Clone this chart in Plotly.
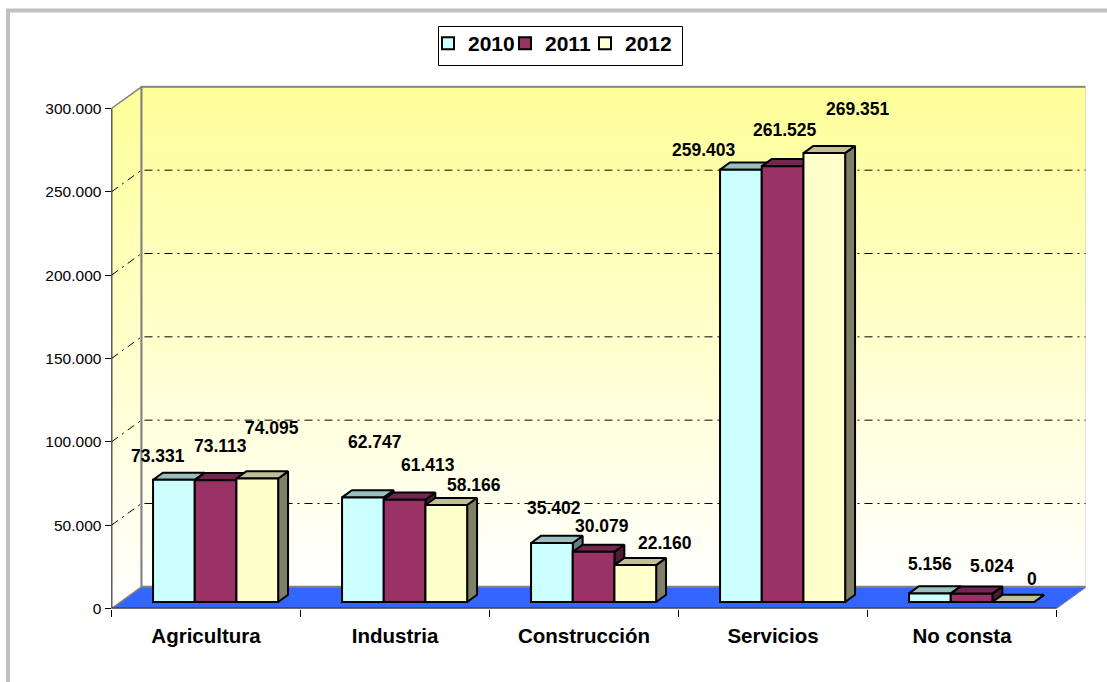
import plotly.graph_objects as go

categories = ["Agricultura", "Industria", "Construcción", "Servicios", "No consta"]
years = ["2010", "2011", "2012"]
values_2010 = [73331, 62747, 35402, 259403, 5156]
values_2011 = [73113, 61413, 30079, 261525, 5024]
values_2012 = [74095, 58166, 22160, 269351, 0]
y_ticks = [0, 50000, 100000, 150000, 200000, 250000, 300000]
y_tick_labels = ["0", "50.000", "100.000", "150.000", "200.000", "250.000", "300.000"]

# where each data label sits relative to the top of its bar, in px (moved by hand in the original)
label_dx = [[-15, 13, 3, -36, 1], [5, 24, 9, 3, 21], [15, 28, 30, 34, 19]]
label_dy = [[-24, -55, -35, -20, -29], [-34, -35, -26, -36, -28], [-51, -20, -22, -44, -23]]

FRONT = ["#CCFFFF", "#993366", "#FFFFCC"]
TOP = ["#99BFBF", "#732650", "#BFBF99"]
SIDE = ["#668080", "#4D1A33", "#808066"]
FONT = "Liberation Sans, Arial, sans-serif"

W, H = 1107, 682
PX_X = 189  # px per category
PX_Y = 600  # value units per px

# fake 3d: how far the back wall is shifted from the front plane
WALL_DX = 30 / PX_X
WALL_DY = 13000
BAR_START = 0.32  # bars stand this far back on the floor
BAR_DEPTH = 0.33
BAR_W = 41.7 / PX_X
N = len(categories)

# one legend per year so each entry can sit where the original has it
LEGEND_NAMES = ["legend", "legend2", "legend3"]
LEGEND_X = [428, 505, 585]


def polygon(points, **kwargs):
    return go.Scatter(
        x=[p[0] for p in points],
        y=[p[1] for p in points],
        mode="lines",
        fill="toself",
        showlegend=False,
        hoverinfo="skip",
        cliponaxis=False,
        **kwargs,
    )


def line(points, color, width, dash="solid"):
    return go.Scatter(
        x=[p[0] for p in points],
        y=[p[1] for p in points],
        mode="lines",
        line=dict(color=color, width=width, dash=dash),
        showlegend=False,
        hoverinfo="skip",
        cliponaxis=False,
    )


def legend_style(x_px):
    return dict(
        orientation="h",
        x=x_px / W,
        y=1 - 23 / H,
        xanchor="left",
        yanchor="top",
        bgcolor="rgba(0,0,0,0)",
        font=dict(family=FONT, size=21, color="#000000", weight="bold"),
    )


fig = go.Figure()

top_value = y_ticks[-1]
wall_fill = dict(type="vertical", colorscale=[[0, "#FFFFFF"], [1, "#FFFF99"]])

fig.add_trace(
    polygon(
        [(0, 0), (N, 0), (N + WALL_DX, WALL_DY), (WALL_DX, WALL_DY), (0, 0)],
        fillcolor="#3366FF",
        line=dict(color="#808080", width=1),
    )
)
fig.add_trace(
    polygon(
        [(0, 0), (WALL_DX, WALL_DY), (WALL_DX, top_value + WALL_DY), (0, top_value), (0, 0)],
        fillgradient=wall_fill,
        line=dict(color="#808080", width=1.5),
    )
)
fig.add_trace(
    polygon(
        [
            (WALL_DX, WALL_DY),
            (N + WALL_DX, WALL_DY),
            (N + WALL_DX, top_value + WALL_DY),
            (WALL_DX, top_value + WALL_DY),
            (WALL_DX, WALL_DY),
        ],
        fillgradient=wall_fill,
        line=dict(color="#808080", width=2),
    )
)

for tick in y_ticks[1:-1]:
    fig.add_trace(
        line(
            [(0, tick), (WALL_DX, tick + WALL_DY), (N + WALL_DX, tick + WALL_DY)],
            "#000000",
            1,
            "8px,5px,2px,5px",
        )
    )

fig.add_trace(line([(0, 0), (0, top_value)], "#000000", 1.5))
fig.add_trace(line([(0, 0), (N, 0)], "#333333", 2))

base = 0.3 * WALL_DY
depth_x = BAR_DEPTH * WALL_DX
depth_y = BAR_DEPTH * WALL_DY
edge = dict(color="#000000", width=2)
annotations = []

series = [values_2010, values_2011, values_2012]
for s, values in enumerate(series):
    centers = [c + 0.5 + BAR_START * WALL_DX + (s - 1) * BAR_W for c in range(N)]
    for center, value in zip(centers, values):
        x0 = center - BAR_W / 2
        x1 = center + BAR_W / 2
        tip = base + value
        fig.add_trace(
            polygon(
                [(x1, base), (x1, tip), (x1 + depth_x, tip + depth_y), (x1 + depth_x, base + depth_y), (x1, base)],
                fillcolor=SIDE[s],
                line=edge,
                zorder=2 * s + 1,
            )
        )
        fig.add_trace(
            polygon(
                [(x0, tip), (x1, tip), (x1 + depth_x, tip + depth_y), (x0 + depth_x, tip + depth_y), (x0, tip)],
                fillcolor=TOP[s],
                line=edge,
                zorder=2 * s + 1,
            )
        )
    fig.add_trace(
        go.Bar(
            x=centers,
            y=values,
            base=base,
            width=BAR_W,
            name=years[s],
            legend=LEGEND_NAMES[s],
            showlegend=True,
            marker=dict(color=FRONT[s], line=edge),
            hoverinfo="skip",
            zorder=2 * s + 2,
        )
    )
    for c, value in enumerate(values):
        annotations.append(
            dict(
                x=centers[c],
                y=base + value,
                text=f"{value:,}".replace(",", "."),
                xshift=label_dx[s][c] - 0.6,
                yshift=-label_dy[s][c],
                showarrow=False,
                xanchor="center",
                yanchor="middle",
                font=dict(family=FONT, size=17.5, color="#000000", weight="bold"),
            )
        )

fig.update_layout(
    width=W,
    height=H,
    margin=dict(l=0, r=0, t=0, b=0, autoexpand=False),
    paper_bgcolor="#FFFFFF",
    plot_bgcolor="rgba(0,0,0,0)",
    barmode="overlay",
    annotations=annotations,
    legend=legend_style(LEGEND_X[0]),
    legend2=legend_style(LEGEND_X[1]),
    legend3=legend_style(LEGEND_X[2]),
    shapes=[
        dict(
            type="rect",
            xref="paper",
            yref="paper",
            x0=8 / W,
            x1=1.05,
            y0=-0.05,
            y1=1 - 10.5 / H,
            line=dict(color="#C0C0C0", width=4),
            layer="below",
        ),
        # legend box, drawn apart since the three legends share it
        dict(
            type="rect",
            xref="paper",
            yref="paper",
            x0=438.5 / W,
            x1=682.5 / W,
            y0=1 - 65.5 / H,
            y1=1 - 26.5 / H,
            fillcolor="#FFFFFF",
            line=dict(color="#000000", width=1),
            layer="below",
        ),
    ],
)

fig.update_xaxes(
    domain=[111.5 / W, 1085.5 / W],
    range=[0, (1085.5 - 111.5) / PX_X],
    tickmode="array",
    tickvals=[c + 0.5 for c in range(N)],
    ticktext=categories,
    ticks="",
    ticklabelstandoff=13,
    tickfont=dict(family=FONT, size=20.5, color="#000000", weight="bold"),
    showgrid=False,
    zeroline=False,
    showline=False,
    minor=dict(
        tickmode="array",
        tickvals=list(range(N + 1)),
        ticks="outside",
        ticklen=7,
        tickwidth=1,
        tickcolor="#000000",
        showgrid=False,
    ),
)
fig.update_yaxes(
    domain=[(H - 608.5) / H, (H - 85.5) / H],
    range=[0, (608.5 - 85.5) * PX_Y],
    tickmode="array",
    tickvals=y_ticks,
    ticktext=y_tick_labels,
    ticks="outside",
    ticklen=6,
    tickwidth=1,
    tickcolor="#000000",
    tickfont=dict(family=FONT, size=15.5, color="#000000"),
    showgrid=False,
    zeroline=False,
    showline=False,
)

# the page's default body margin would push the whole chart 8px off
fig.write_html(
    "out.html",
    config={"displayModeBar": False},
    post_script="document.body.style.margin = '0';",
)
